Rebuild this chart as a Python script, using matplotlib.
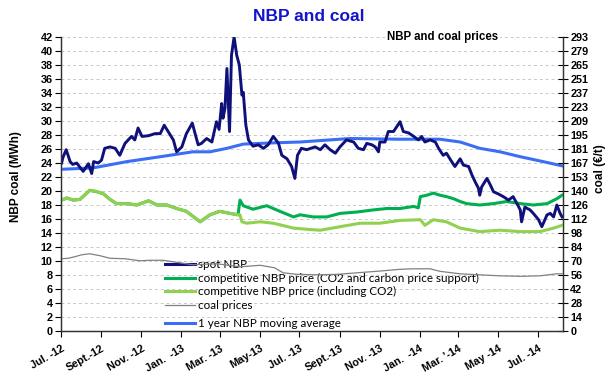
import matplotlib
matplotlib.use('Agg')
import matplotlib.pyplot as plt
import pandas as pd
from matplotlib import font_manager
from matplotlib.lines import Line2D

# spot NBP (left axis)
spot_dates = ['2012-07-02', '2012-07-04', '2012-07-09', '2012-07-15', '2012-07-19', '2012-07-25',
              '2012-08-04', '2012-08-12', '2012-08-17', '2012-08-20', '2012-08-27', '2012-09-01',
              '2012-09-06', '2012-09-14', '2012-09-22', '2012-09-29', '2012-10-07', '2012-10-17',
              '2012-10-22', '2012-10-27', '2012-11-02', '2012-11-12', '2012-11-22', '2012-11-30',
              '2012-12-06', '2012-12-12', '2012-12-20', '2012-12-25', '2013-01-02', '2013-01-09',
              '2013-01-18', '2013-01-22', '2013-01-27', '2013-02-01', '2013-02-09', '2013-02-17',
              '2013-02-24', '2013-02-28', '2013-03-04', '2013-03-06', '2013-03-09', '2013-03-12',
              '2013-03-16', '2013-03-19', '2013-03-23', '2013-03-27', '2013-03-31', '2013-04-04',
              '2013-04-06', '2013-04-10', '2013-04-14', '2013-04-21', '2013-04-29', '2013-05-07',
              '2013-05-14', '2013-05-22', '2013-05-30', '2013-06-04', '2013-06-12', '2013-06-19',
              '2013-06-24', '2013-06-28', '2013-07-04', '2013-07-12', '2013-07-25', '2013-08-02',
              '2013-08-09', '2013-08-17', '2013-08-25', '2013-09-01', '2013-09-11', '2013-09-22',
              '2013-09-29', '2013-10-07', '2013-10-12', '2013-10-20', '2013-10-25', '2013-10-30',
              '2013-11-01', '2013-11-09', '2013-11-14', '2013-11-22', '2013-11-27', '2013-12-02',
              '2013-12-07', '2013-12-15', '2013-12-23', '2013-12-30', '2014-01-04', '2014-01-09',
              '2014-01-17', '2014-01-25', '2014-01-30', '2014-02-06', '2014-02-11', '2014-02-19',
              '2014-02-24', '2014-03-04', '2014-03-09', '2014-03-17', '2014-03-22', '2014-03-27',
              '2014-04-01', '2014-04-03', '2014-04-06', '2014-04-14', '2014-04-19', '2014-04-24',
              '2014-05-01', '2014-05-09', '2014-05-17', '2014-05-24', '2014-05-30', '2014-06-04',
              '2014-06-06', '2014-06-11', '2014-06-19', '2014-06-24', '2014-07-02', '2014-07-07',
              '2014-07-15', '2014-07-20', '2014-07-25', '2014-07-30', '2014-08-04', '2014-08-07']
spot_nbp = [24.0, 24.8, 25.9, 24.2, 23.8, 24.0,
            22.8, 23.9, 22.5, 24.2, 24.0, 24.4,
            26.1, 26.3, 26.1, 25.1, 26.8, 27.8,
            27.3, 29.0, 27.8, 27.9, 28.2, 28.2,
            29.4, 28.5, 27.3, 25.6, 26.3, 28.2,
            29.7, 28.3, 26.6, 26.8, 27.5, 27.0,
            29.9, 28.8, 32.5, 30.4, 31.8, 37.5,
            28.5, 39.4, 42.0, 39.4, 38.0, 33.7,
            34.1, 29.4, 27.3, 26.4, 26.6, 26.1,
            26.6, 27.8, 26.8, 25.1, 24.6, 23.5,
            21.8, 25.1, 26.1, 25.9, 26.3, 25.9,
            26.6, 25.9, 25.4, 26.3, 27.3, 27.0,
            26.1, 25.9, 26.8, 26.6, 26.3, 25.6,
            27.0, 27.0, 28.5, 28.5, 29.2, 29.9,
            28.5, 28.3, 27.8, 27.3, 27.8, 27.0,
            27.3, 27.0, 26.1, 25.1, 25.4, 24.2,
            23.5, 24.6, 23.7, 23.5, 22.3, 21.3,
            20.4, 19.4, 20.6, 21.8, 20.9, 19.9,
            19.6, 19.2, 18.7, 19.2, 18.2, 17.3,
            15.6, 17.7, 17.3, 16.8, 15.9, 14.9,
            16.6, 16.8, 16.3, 18.0, 16.8, 16.3]

# competitive NBP price, same for both variants before carbon price support
pre_dates = ['2012-07-02', '2012-07-10', '2012-07-20', '2012-07-30', '2012-08-14', '2012-08-25',
             '2012-09-04', '2012-09-14', '2012-09-24', '2012-10-10', '2012-10-25', '2012-11-12',
             '2012-11-25', '2012-12-10', '2012-12-25', '2013-01-09', '2013-01-30', '2013-02-14',
             '2013-03-01', '2013-03-17', '2013-03-29']
pre_vals = [18.7, 19.0, 18.7, 18.8, 20.1, 19.9,
            19.6, 18.8, 18.2, 18.2, 18.0, 18.6,
            18.0, 18.0, 17.5, 17.1, 15.6, 16.6,
            17.1, 16.8, 16.6]

# CO2 and carbon price support
cps_dates = ['2013-04-01', '2013-04-06', '2013-04-21', '2013-05-12', '2013-06-01', '2013-06-22',
             '2013-07-02', '2013-07-22', '2013-08-12', '2013-09-01', '2013-09-27', '2013-10-22',
             '2013-11-12', '2013-12-02', '2013-12-23', '2013-12-30', '2014-01-02', '2014-01-12',
             '2014-01-22', '2014-02-01', '2014-02-11', '2014-02-22', '2014-03-04', '2014-03-14',
             '2014-04-03', '2014-04-24', '2014-05-14', '2014-06-04', '2014-06-24', '2014-07-15',
             '2014-07-30', '2014-08-07']
cps_vals = [18.7, 17.9, 17.4, 17.9, 17.1, 16.3,
            16.6, 16.3, 16.3, 16.8, 17.0, 17.3,
            17.5, 17.5, 17.8, 17.6, 19.2, 19.4,
            19.7, 19.4, 19.2, 18.9, 18.5, 18.2,
            18.0, 18.2, 18.5, 18.2, 18.0, 18.2,
            18.9, 19.4]

# including CO2 only
co2_dates = ['2013-04-01', '2013-04-04', '2013-04-11', '2013-05-02', '2013-05-22', '2013-06-22',
             '2013-07-17', '2013-08-02', '2013-09-01', '2013-10-02', '2013-11-01', '2013-12-02',
             '2014-01-02', '2014-01-09', '2014-01-22', '2014-02-11', '2014-03-04', '2014-04-03',
             '2014-05-04', '2014-06-04', '2014-07-04', '2014-07-25', '2014-08-07']
co2_vals = [16.6, 15.6, 15.4, 15.6, 15.4, 14.7,
            14.5, 14.4, 14.9, 15.4, 15.4, 15.8,
            15.9, 15.1, 15.9, 15.6, 14.7, 14.2,
            14.4, 14.2, 14.2, 14.7, 15.1]

# coal, EUR/t (right axis)
coal_dates = ['2012-07-02', '2012-07-12', '2012-07-22', '2012-08-02', '2012-08-14', '2012-08-30',
              '2012-09-14', '2012-10-07', '2012-10-30', '2012-11-14', '2012-12-04', '2013-01-04',
              '2013-01-19', '2013-02-25', '2013-04-01', '2013-05-02', '2013-05-24', '2013-06-06',
              '2013-06-27', '2013-07-28', '2013-08-28', '2013-09-27', '2013-11-06', '2013-12-02',
              '2013-12-22', '2014-01-17', '2014-02-01', '2014-03-04', '2014-04-03', '2014-05-04',
              '2014-06-04', '2014-07-04', '2014-07-30', '2014-08-07']
coal_eur = [72.0, 72.5, 74.0, 76.0, 77.0, 75.0,
            72.5, 72.0, 70.0, 70.5, 70.5, 67.5,
            66.0, 67.0, 64.0, 65.5, 63.0, 58.0,
            56.5, 56.0, 56.5, 58.0, 60.0, 61.5,
            62.0, 62.0, 59.5, 57.0, 56.0, 55.0,
            54.5, 55.0, 57.0, 57.0]

# 1 year moving average of spot NBP
ma_dates = ['2012-07-01', '2012-08-19', '2012-10-10', '2012-11-30', '2013-01-19', '2013-02-14',
            '2013-03-12', '2013-04-06', '2013-05-02', '2013-05-28', '2013-07-02', '2013-09-16',
            '2013-12-02', '2014-02-01', '2014-03-04', '2014-04-03', '2014-05-04', '2014-06-04',
            '2014-07-04', '2014-08-07']
ma_nbp = [23.1, 23.3, 24.2, 24.9, 25.6, 25.6,
          26.1, 26.7, 26.8, 26.9, 27.0, 27.5,
          27.4, 27.4, 27.0, 26.1, 25.6, 24.9,
          24.3, 23.6]

tick_months = pd.date_range('2012-07-01', '2014-07-01', freq='2MS')
tick_labels = ['Jul. -12', 'Sept.-12', 'Nov. -12', 'Jan.  -13', 'Mar. -13', 'May-13', 'Jul. -13',
               'Sept.-13', 'Nov. -13', 'Jan.  -14', "Mar. '-14", 'May -14', 'Jul. -14']
left_ticks = list(range(0, 43, 2))
right_labels = ['0', '14', '28', '42', '56', '70', '84', '98', '112', '126', '140', '153', '167',
                '181', '195', '209', '223', '237', '251', '265', '279', '293']

navy = '#10107a'
dark_green = '#00b050'
light_green = '#92d050'
grey = '#808080'
ma_blue = '#3a6ef5'

installed = {f.name for f in font_manager.fontManager.ttflist}
if 'Liberation Sans Narrow' in installed:
    narrow, tick_size = ['Liberation Sans Narrow', 'DejaVu Sans'], 8.5
else:
    narrow, tick_size = ['Liberation Sans', 'DejaVu Sans'], 7.8

fig = plt.figure(figsize=(6.14, 3.75), dpi=100)
ax = fig.add_axes([0.0993, 0.1173, 0.8172, 0.784])
ax2 = ax.twinx()

d = pd.to_datetime
ax.plot(d(pre_dates + cps_dates), pre_vals + cps_vals, color=dark_green, lw=2.2, zorder=3)
ax.plot(d(pre_dates + co2_dates), pre_vals + co2_vals, color=light_green, lw=2.2, zorder=4)
ax.plot(d(ma_dates), ma_nbp, color=ma_blue, lw=2.2, zorder=5)
ax.plot(d(spot_dates), spot_nbp, color=navy, lw=2.1, zorder=6)
ax2.plot(d(coal_dates), coal_eur, color=grey, lw=0.9)

ax.set_xlim(d('2012-07-01'), d('2014-08-08'))
ax.set_ylim(0, 42)
ax2.set_ylim(0, 293)

ax.set_yticks(left_ticks)
ax.set_yticklabels([str(v) for v in left_ticks], family=narrow, fontweight='bold', fontsize=tick_size)
ax2.set_yticks([k * 293 / 21 for k in range(22)])
ax2.set_yticklabels(right_labels, family=narrow, fontweight='bold', fontsize=tick_size)
ax.set_xticks(tick_months)
ax.set_xticklabels(tick_labels, rotation=30, ha='right', rotation_mode='anchor',
                   family=narrow, fontweight='bold', fontsize=tick_size)

ax.grid(axis='y', color='#c8c8c8', linestyle=(0, (3, 3)), lw=0.7)
ax.set_axisbelow(True)
ax.tick_params(axis='y', direction='out', length=4, width=0.8, pad=2)
ax.tick_params(axis='x', direction='out', length=4, width=0.8, pad=5)
ax2.tick_params(axis='y', direction='inout', length=7, width=0.8, pad=2)
for a in (ax, ax2):
    a.spines['top'].set_visible(False)
    for s in ('left', 'right', 'bottom'):
        a.spines[s].set_color('#333333')
        a.spines[s].set_linewidth(0.9)

label_font = ['Liberation Sans', 'DejaVu Sans']
fig.text(16 / 614, 0.53, 'NBP coal (MWh)', rotation=90, ha='center', va='center',
         family=label_font, fontweight='bold', fontsize=8.5)
fig.text(600 / 614, 0.55, 'coal (€/t)', rotation=90, ha='center', va='center',
         family=label_font, fontweight='bold', fontsize=8.5)

fig.text(0.503, 0.957, 'NBP and coal', ha='center', va='center', color='#1414cc',
         fontsize=12.5, fontweight='bold', family=label_font)
ax.text(0.76, 1.0, 'NBP and coal prices', transform=ax.transAxes, ha='center', va='center',
        family=narrow, fontweight='bold', fontsize=tick_size + 0.5,
        bbox=dict(facecolor='white', edgecolor='none', pad=1.5), zorder=10)

leg_font = {'family': ['Lato', 'DejaVu Sans'], 'size': 8.4}
handles = [Line2D([], [], color=navy, lw=2.2), Line2D([], [], color=dark_green, lw=2.2),
           Line2D([], [], color=light_green, lw=2.2), Line2D([], [], color=grey, lw=0.9)]
names = ['spot NBP', 'competitive NBP price (CO2 and carbon price support)',
         'competitive NBP price (including CO2)', 'coal prices']
leg1 = ax.legend(handles, names, loc='upper left', bbox_to_anchor=(165 / 614, 1 - 259 / 375),
                 bbox_transform=fig.transFigure, frameon=False, prop=leg_font, borderpad=0,
                 borderaxespad=0, handlelength=2.6, handletextpad=0.2, labelspacing=0.22)
ax.add_artist(leg1)
ax.legend([Line2D([], [], color=ma_blue, lw=2.2)], ['1 year NBP moving average'], loc='upper left',
          bbox_to_anchor=(165 / 614, 1 - 318 / 375), bbox_transform=fig.transFigure,
          frameon=False, prop=leg_font, borderpad=0, borderaxespad=0, handlelength=2.6,
          handletextpad=0.2)

fig.savefig('out.png', dpi=100)
